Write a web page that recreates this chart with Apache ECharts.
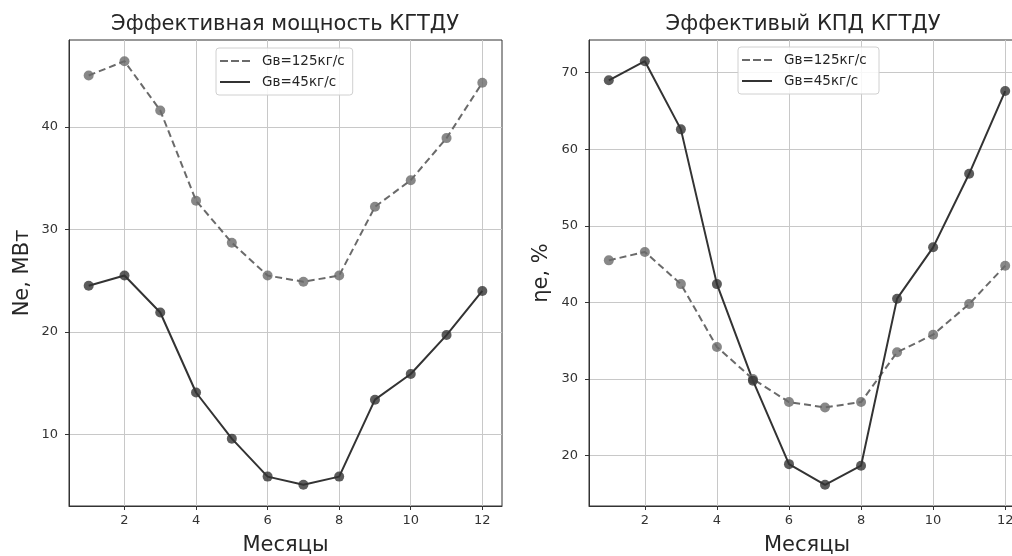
<!DOCTYPE html>
<html>
<head>
<meta charset="utf-8">
<script src="https://cdn.jsdelivr.net/npm/echarts@6/dist/echarts.min.js"></script>
<style>html,body{margin:0;padding:0;background:#fff}#c{width:1012px;height:556px}</style>
</head>
<body>
<div id="c"></div>
<script>
const months = [1, 2, 3, 4, 5, 6, 7, 8, 9, 10, 11, 12];
const ne125 = [45.0, 46.4, 41.6, 32.8, 28.7, 25.5, 24.9, 25.5, 32.2, 34.8, 38.9, 44.3];
const ne45 = [24.5, 25.5, 21.9, 14.1, 9.6, 5.9, 5.1, 5.9, 13.4, 15.9, 19.7, 24.0];
const eta125 = [45.5, 46.6, 42.4, 34.2, 30.0, 27.0, 26.3, 27.0, 33.5, 35.8, 39.8, 44.8];
const eta45 = [69.0, 71.5, 62.6, 42.4, 29.8, 18.9, 16.2, 18.7, 40.5, 47.2, 56.8, 67.6];
const xTicks = [2, 4, 6, 8, 10, 12];
const neTicks = [10, 20, 30, 40];
const etaTicks = [20, 30, 40, 50, 60, 70];
const name125 = 'Gв=125кг/с';
const name45 = 'Gв=45кг/с';
const titles = ['Эффективная мощность КГТДУ', 'Эффективый КПД КГТДУ'];
const yNames = ['Ne, МВт', 'ηe, %'];
const xName = 'Месяцы';

const FONT = 'DejaVu Sans';
const C_DASH = '#6a6a6a';
const C_SOLID = '#333333';
const ICON_DASH = 'path://M0,0h8v2h-8z M11,0h8v2h-8z M22,0h8v2h-8z';
const ICON_SOLID = 'path://M0,0h30v2h-30z';

function pad(arrs) {
  const all = [].concat(...arrs);
  const mn = Math.min(...all), mx = Math.max(...all);
  const m = (mx - mn) * 0.05;
  return [mn - m, mx + m];
}
const xr = pad([months]);
const nr = pad([ne125, ne45]);
const er = pad([eta125, eta45]);
const pts = (ys) => months.map((m, i) => [m, ys[i]]);

function xAxis(idx) {
  return {
    type: 'value', gridIndex: idx, min: xr[0], max: xr[1],
    name: xName, nameLocation: 'middle', nameGap: 29,
    nameTextStyle: { fontFamily: FONT, fontSize: 21, color: '#262626' },
    axisLine: { show: true, lineStyle: { color: '#333' } },
    axisTick: { show: true, length: 4, customValues: xTicks, lineStyle: { color: '#333' } },
    axisLabel: { customValues: xTicks, fontFamily: FONT, fontSize: 13, color: '#333', margin: 8 },
    splitLine: { show: true, lineStyle: { color: '#c8c8c8', width: 1 } }
  };
}
function yAxis(idx, r, ticks, nm, gap) {
  return {
    type: 'value', gridIndex: idx, min: r[0], max: r[1],
    name: nm, nameLocation: 'middle', nameGap: gap,
    nameTextStyle: { fontFamily: FONT, fontSize: 21, color: '#262626' },
    axisLine: { show: true, lineStyle: { color: '#333' } },
    axisTick: { show: true, length: 4, customValues: ticks, lineStyle: { color: '#333' } },
    axisLabel: { customValues: ticks, fontFamily: FONT, fontSize: 13, color: '#333', margin: 11 },
    splitLine: { show: true, lineStyle: { color: '#c8c8c8', width: 1 } }
  };
}
function lineSeries(idx, nm, ys, color, dashed) {
  return [{
    type: 'line', name: nm, xAxisIndex: idx, yAxisIndex: idx, data: pts(ys),
    showSymbol: false, symbol: 'none',
    lineStyle: { color: color, width: 2, type: dashed ? [7, 4] : 'solid' },
    itemStyle: { color: color }, z: 3, animation: false
  }, {
    type: 'scatter', name: nm + '_m', xAxisIndex: idx, yAxisIndex: idx, data: pts(ys),
    symbol: 'circle', symbolSize: 10, itemStyle: { color: color }, z: 4, animation: false
  }];
}
function legend(idx, left, top) {
  const sfx = idx === 0 ? '' : ' ';
  return {
    data: [
      { name: name125 + sfx, icon: ICON_DASH, itemStyle: { color: C_DASH } },
      { name: name45 + sfx, icon: ICON_SOLID, itemStyle: { color: C_SOLID } }
    ],
    orient: 'vertical', left: left, top: top,
    itemWidth: 30, itemHeight: 14, itemGap: 7,
    padding: [6, 8, 6, 4],
    backgroundColor: 'rgba(255,255,255,0.85)', borderColor: '#d0d0d0', borderWidth: 1, borderRadius: 3,
    textStyle: { fontFamily: FONT, fontSize: 13.5, color: '#262626', padding: [0, 0, 0, 7] }
  };
}

const chart = echarts.init(document.getElementById('c'), null, { renderer: 'canvas' });
chart.setOption({
  animation: false,
  backgroundColor: '#fff',
  title: [
    { text: titles[0], left: 280, top: 9, textAlign: 'center', textStyle: { fontFamily: FONT, fontSize: 21, fontWeight: 'normal', color: '#262626' } },
    { text: titles[1], left: 798, top: 9, textAlign: 'center', textStyle: { fontFamily: FONT, fontSize: 21, fontWeight: 'normal', color: '#262626' } }
  ],
  grid: [
    { left: 69, top: 40, width: 433, height: 466, outerBoundsMode: 'none', containLabel: false, show: true, borderColor: '#333', borderWidth: 1, backgroundColor: 'transparent' },
    { left: 589, top: 40, width: 436, height: 466, outerBoundsMode: 'none', containLabel: false, show: true, borderColor: '#333', borderWidth: 1, backgroundColor: 'transparent' }
  ],
  legend: [legend(0, 216, 48), legend(1, 738, 47)],
  xAxis: [xAxis(0), xAxis(1)],
  yAxis: [yAxis(0, nr, neTicks, yNames[0], 36), yAxis(1, er, etaTicks, yNames[1], 37)],
  series: [].concat(
    lineSeries(0, name125, ne125, C_DASH, true),
    lineSeries(0, name45, ne45, C_SOLID, false),
    lineSeries(1, name125 + ' ', eta125, C_DASH, true),
    lineSeries(1, name45 + ' ', eta45, C_SOLID, false)
  )
});
</script>
</body>
</html>
